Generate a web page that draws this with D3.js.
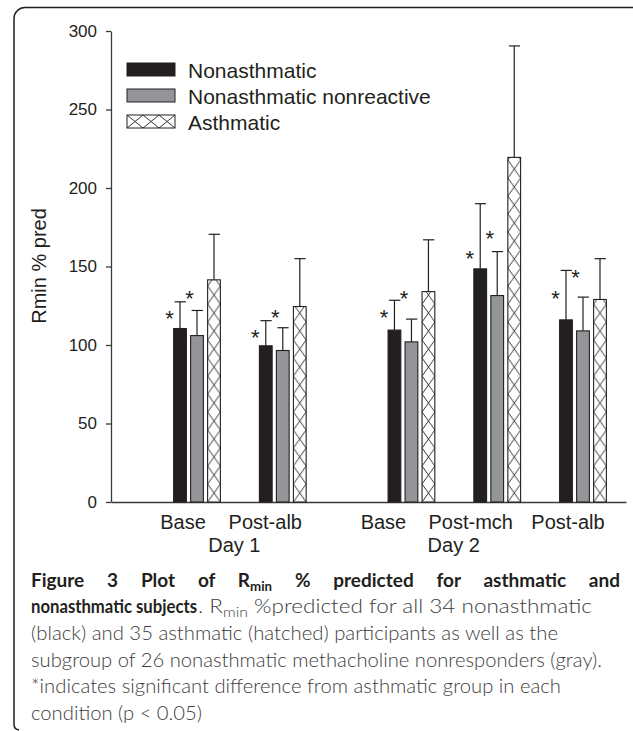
<!DOCTYPE html>
<html>
<head>
<meta charset="utf-8">
<script src="https://cdn.jsdelivr.net/npm/d3@7"></script>
<style>
    body { margin: 0; background: #fff; }
    svg { display: block; }
</style>
</head>
<body>
<svg id="chart" width="633" height="731"></svg>
<script>

var conditions = ['Base', 'Post-alb', 'Base', 'Post-mch', 'Post-alb'];
var days = ['Day 1', 'Day 1', 'Day 2', 'Day 2', 'Day 2'];
var series = ['Nonasthmatic', 'Nonasthmatic nonreactive', 'Asthmatic'];

// mean and upper SD for each condition
var nonasthmatic = [110.5, 99.5, 109.5, 148.5, 116];
var nonasthmaticSD = [17, 16, 19, 41.5, 31.5];
var nonreactive = [106, 96.5, 102, 131.5, 109];
var nonreactiveSD = [16, 14.5, 14.5, 28, 21.5];
var asthmatic = [141.5, 124.5, 134, 219.5, 129];
var asthmaticSD = [29, 30.5, 33, 71, 26];

// level (in % pred) of the significance stars
var starNonasthmatic = [120, 108, 121, 158, 133];
var starNonreactive = [133, 121, 133, 171, 146];

var yTicks = [0, 50, 100, 150, 200, 250, 300];


var Chart = {};

Chart.init = function() {
    this.svg = d3.select('#chart');
    this.ink = '#231f20';
    this.font = '"Liberation Sans", Arial, sans-serif';

    this.y = d3.scaleLinear().domain([0, 300]).range([502, 31]);
    this.slots = conditions.map(function(c, i) {
        return i + (days[i] === 'Day 2' ? 0.5 : 0);
    });
    this.x = d3.scaleLinear().domain([0, 4.5]).range([197, 583]);
    this.inner = d3.scaleBand()
        .domain(series)
        .range([-25.5, 25.5])
        .paddingInner(0.25)
        .paddingOuter(0.125);

    this.groups = [
        {name: series[0], values: nonasthmatic, sd: nonasthmaticSD, stars: starNonasthmatic, fill: this.ink},
        {name: series[1], values: nonreactive, sd: nonreactiveSD, stars: starNonreactive, fill: '#939598'},
        {name: series[2], values: asthmatic, sd: asthmaticSD, stars: null, fill: 'hatch'}
    ];

    this.defs = this.svg.append('defs');
    this.drawFrame();
    this.drawAxes();
    this.drawBars();
    this.drawLegend();
    this.drawCaption();
};


Chart.hatch = function(id, x0, y0, w, h) {
    var p = this.defs.append('pattern')
        .attr('id', id)
        .attr('patternUnits', 'userSpaceOnUse')
        .attr('x', x0).attr('y', y0)
        .attr('width', w).attr('height', h);
    p.append('rect').attr('width', w).attr('height', h).attr('fill', '#fff');
    p.append('path')
        .attr('d', 'M0,0L' + w + ',' + h + 'M' + w + ',0L0,' + h)
        .attr('stroke', this.ink)
        .attr('stroke-width', 0.9)
        .attr('fill', 'none');
    return 'url(#' + id + ')';
};


Chart.drawFrame = function() {
    this.svg.append('path')
        .attr('d', 'M633,7.5H25A11,11 0 0 0 14,18.5V724Q14,729.5 19,730')
        .attr('fill', 'none')
        .attr('stroke', this.ink)
        .attr('stroke-width', 1.5);
};


Chart.drawAxes = function() {
    var self = this;
    var yAxis = d3.axisLeft(self.y)
        .tickValues(yTicks)
        .tickSize(5)
        .tickSizeOuter(0)
        .tickPadding(9);
    var gy = self.svg.append('g')
        .attr('transform', 'translate(111,0)')
        .call(yAxis);
    gy.selectAll('path, line').attr('stroke', '#3a3a3a').attr('stroke-width', 1.3);
    gy.selectAll('text')
        .attr('font-family', self.font)
        .attr('font-size', 17)
        .attr('fill', self.ink);

    var xLine = d3.scaleLinear().range([111, 626]);
    var gx = self.svg.append('g')
        .attr('transform', 'translate(0,' + self.y(0) + ')')
        .call(d3.axisBottom(xLine).tickValues([]).tickSizeOuter(0));
    gx.select('path').attr('stroke', '#3a3a3a').attr('stroke-width', 1.3);

    self.svg.append('text')
        .attr('transform', 'translate(46,266) rotate(-90)')
        .attr('text-anchor', 'middle')
        .attr('font-family', self.font)
        .attr('font-size', 20)
        .attr('fill', self.ink)
        .text('Rmin % pred');

    // category labels sit a little left of their bar groups, as in the original
    var labelNudge = [-14, -17.5, -28, -26.5, -15];
    self.svg.append('g').selectAll('text')
        .data(conditions)
        .enter().append('text')
        .attr('x', function(d, i) { return self.x(self.slots[i]) + labelNudge[i]; })
        .attr('y', 529)
        .attr('text-anchor', 'middle')
        .attr('font-family', self.font)
        .attr('font-size', 20)
        .attr('fill', self.ink)
        .text(function(d) { return d; });

    var dayNames = ['Day 1', 'Day 2'];
    var dayNudge = [-5.5, -43.5];
    dayNames.forEach(function(day, k) {
        var xs = self.slots.filter(function(s, i) { return days[i] === day; })
            .map(function(s) { return self.x(s); });
        self.svg.append('text')
            .attr('x', d3.mean(xs) + dayNudge[k])
            .attr('y', 552)
            .attr('text-anchor', 'middle')
            .attr('font-family', self.font)
            .attr('font-size', 20)
            .attr('fill', self.ink)
            .text(day);
    });
};


Chart.drawBars = function() {
    var self = this;
    var bw = self.inner.bandwidth();
    var base = self.y(0);

    self.groups.forEach(function(group) {
        var g = self.svg.append('g');
        group.values.forEach(function(v, i) {
            var left = self.x(self.slots[i]) + self.inner(group.name);
            var mid = left + bw / 2;
            var top = self.y(v);
            var fill = group.fill === 'hatch'
                ? self.hatch('hatch' + i, left, base, bw, 18)
                : group.fill;

            // error bar first, so the bar outline sits over its foot
            g.append('line')
                .attr('x1', mid).attr('x2', mid)
                .attr('y1', top).attr('y2', self.y(v + group.sd[i]))
                .attr('stroke', self.ink).attr('stroke-width', 1.2);
            g.append('line')
                .attr('x1', left + 1).attr('x2', left + bw - 0.5)
                .attr('y1', self.y(v + group.sd[i])).attr('y2', self.y(v + group.sd[i]))
                .attr('stroke', self.ink).attr('stroke-width', 1.2);

            g.append('rect')
                .attr('x', left).attr('y', top)
                .attr('width', bw).attr('height', base - top)
                .attr('fill', fill)
                .attr('stroke', self.ink)
                .attr('stroke-width', 1.1);

            if (group.stars) {
                g.append('text')
                    .attr('x', left - (group.fill === self.ink ? 4 : 1))
                    .attr('y', self.y(group.stars[i]) + 12.5)
                    .attr('text-anchor', 'middle')
                    .attr('font-family', self.font)
                    .attr('font-size', 22)
                    .attr('fill', self.ink)
                    .text('*');
            }
        });
    });
};


Chart.drawLegend = function() {
    var self = this;
    var rowTop = [63, 89, 115];
    self.groups.forEach(function(group, k) {
        var fill = group.fill === 'hatch'
            ? self.hatch('hatchLegend', 127, rowTop[k], 16, 13)
            : group.fill;
        self.svg.append('rect')
            .attr('x', 127).attr('y', rowTop[k])
            .attr('width', 48).attr('height', 13)
            .attr('fill', fill)
            .attr('stroke', self.ink)
            .attr('stroke-width', 1);
        self.svg.append('text')
            .attr('x', 188).attr('y', rowTop[k] + 15)
            .attr('font-family', self.font)
            .attr('font-size', 21)
            .attr('fill', self.ink)
            .text(group.name);
    });
};


Chart.drawCaption = function() {
    var self = this;
    var family = 'Lato, "Noto Sans", sans-serif';
    var grey = '#3d3d3d';

    // parts: plain strings, or {low: '...'} for a subscript
    function line(x, y, parts, opts) {
        var t = self.svg.append('text')
            .attr('x', x).attr('y', y)
            .attr('font-family', family)
            .attr('font-size', opts.size)
            .attr('font-weight', opts.weight)
            .attr('fill', opts.color);
        var spaces = 0, shift = 0;
        parts.forEach(function(p) {
            if (typeof p === 'object') {
                t.append('tspan').attr('font-size', opts.size * 0.7).attr('dy', 4).text(p.low);
                shift = -4;
            } else {
                spaces += (p.match(/ /g) || []).length;
                var s = t.append('tspan').text(p);
                if (shift) s.attr('dy', shift);
                shift = 0;
            }
        });
        if (opts.justify) {
            var natural = t.node().getComputedTextLength();
            t.attr('word-spacing', (opts.width - natural) / spaces);
        } else if (opts.width) {
            t.attr('textLength', opts.width).attr('lengthAdjust', 'spacingAndGlyphs');
        }
        return t;
    }

    var B = {size: 19, weight: 700, color: self.ink};
    var R = {size: 20, weight: 300, color: grey};

    line(31, 587, ['Figure 3 Plot of R', {low: 'min'}, ' % predicted for asthmatic and'],
        Object.assign({justify: true, width: 589}, B));
    line(31, 613, ['nonasthmatic subjects'], Object.assign({width: 166}, B));
    line(198, 613, ['. R', {low: 'min'}, ' %predicted for all 34 nonasthmatic'], Object.assign({width: 394}, R));
    line(31, 640, ['(black) and 35 asthmatic (hatched) participants as well as the'], Object.assign({width: 527}, R));
    line(31, 667, ['subgroup of 26 nonasthmatic methacholine nonresponders (gray).'], Object.assign({width: 571}, R));
    line(31, 693, ['*indicates significant difference from asthmatic group in each'], Object.assign({width: 530}, R));
    line(31, 720, ['condition (p < 0.05)'], Object.assign({width: 171}, R));
};


Chart.init();
</script>
</body>
</html>
